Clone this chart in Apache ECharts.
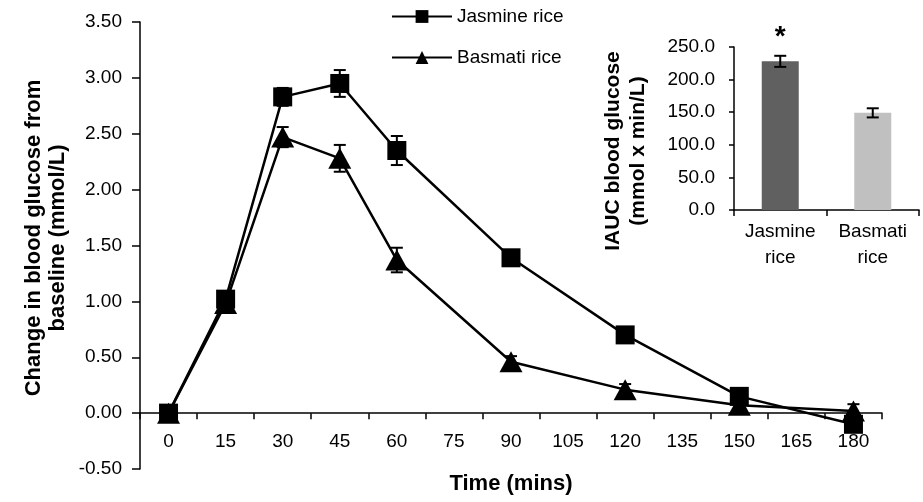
<!DOCTYPE html>
<html>
<head>
<meta charset="utf-8">
<script src="https://cdn.jsdelivr.net/npm/echarts@6/dist/echarts.min.js"></script>
<style>
html,body{margin:0;padding:0;background:#fff;}
#chart{width:923px;height:502px;}
</style>
</head>
<body>
<div id="chart"></div>
<script>
// ---- data ----
var timeLabels = ['0','15','30','45','60','75','90','105','120','135','150','165','180'];
var jasmineMean = [0, 1.02, 2.83, 2.95, 2.35, null, 1.39, null, 0.70, null, 0.15, null, -0.10];
var jasmineErr  = [0, 0.07, 0.08, 0.12, 0.13, null, 0.06, null, 0.05, null, 0.05, null, 0.05];
var basmatiMean = [0, 0.98, 2.47, 2.28, 1.37, null, 0.46, null, 0.21, null, 0.07, null, 0.02];
var basmatiErr  = [0, 0.05, 0.09, 0.12, 0.11, null, 0.05, null, 0.05, null, 0.04, null, 0.06];
var yMin = -0.5, yMax = 3.5, yStep = 0.5;

var riceNames = ['Jasmine\nrice', 'Basmati\nrice'];
var iaucMean = [228, 149];
var iaucErr = [8.5, 7];
var iaucColors = ['#606060', '#c0c0c0'];
var iaucMin = 0, iaucMax = 250, iaucStep = 50;

// ---- helpers ----
var FONT = "'Liberation Sans', Arial, sans-serif";
function errData(mean, err) {
  var out = [];
  for (var i = 0; i < mean.length; i++) {
    if (mean[i] !== null && err[i] !== null) out.push([i, mean[i], err[i]]);
  }
  return out;
}
function errRender(capHalf) {
  return function (params, api) {
    var x = api.value(0), v = api.value(1), e = api.value(2);
    var top = api.coord([x, v + e]);
    var bot = api.coord([x, v - e]);
    var st = { stroke: '#000', lineWidth: 2 };
    return {
      type: 'group',
      children: [
        { type: 'line', shape: { x1: top[0], y1: top[1], x2: bot[0], y2: bot[1] }, style: st },
        { type: 'line', shape: { x1: top[0] - capHalf, y1: top[1], x2: top[0] + capHalf, y2: top[1] }, style: st },
        { type: 'line', shape: { x1: bot[0] - capHalf, y1: bot[1], x2: bot[0] + capHalf, y2: bot[1] }, style: st }
      ]
    };
  };
}

var mainTop = 22, mainBottom = 33, H = 502;
var mainHeight = H - mainTop - mainBottom;
// move the category axis up onto the zero line
var zeroOffset = -((0 - yMin) / (yMax - yMin)) * mainHeight;

var chart = echarts.init(document.getElementById('chart'));
var axisLine = { lineStyle: { color: '#000', width: 1.5 } };
var option = {
  animation: false,
  textStyle: { fontFamily: FONT, color: '#000' },
  legend: {
    orient: 'vertical', left: 386, top: 2, itemWidth: 60, itemHeight: 16, itemGap: 22,
    textStyle: { fontSize: 19, color: '#000', fontFamily: FONT },
    data: ['Jasmine rice', 'Basmati rice']
  },
  grid: [
    { left: 140, right: 41, top: mainTop, bottom: mainBottom, outerBoundsMode: 'none' },
    { left: 734, width: 185, top: 47, height: 163, outerBoundsMode: 'none' }
  ],
  xAxis: [
    {
      type: 'category', gridIndex: 0, data: timeLabels, boundaryGap: true,
      position: 'bottom', offset: zeroOffset,
      axisLine: { onZero: false, lineStyle: { color: '#000', width: 1.5 } },
      axisTick: { show: true, length: 6, lineStyle: { color: '#000', width: 1.5 } },
      axisLabel: { fontSize: 19, color: '#000', margin: 19, fontFamily: FONT, interval: 0 }
    },
    {
      type: 'category', gridIndex: 1, data: riceNames, boundaryGap: true,
      axisLine: axisLine, axisTick: { show: true, length: 6, lineStyle: { color: '#000', width: 1.5 } },
      axisLabel: { fontSize: 19, color: '#000', margin: 9, lineHeight: 26, fontFamily: FONT, interval: 0 }
    }
  ],
  yAxis: [
    {
      type: 'value', gridIndex: 0, min: yMin, max: yMax, interval: yStep,
      splitLine: { show: false },
      axisLine: { show: true, lineStyle: { color: '#000', width: 1.5 } },
      axisTick: { show: true, length: 8, lineStyle: { color: '#000', width: 1.5 } },
      axisLabel: { fontSize: 19, color: '#000', margin: 18, fontFamily: FONT,
        formatter: function (v) { return v.toFixed(2); } }
    },
    {
      type: 'value', gridIndex: 1, min: iaucMin, max: iaucMax, interval: iaucStep,
      splitLine: { show: false },
      axisLine: { show: true, lineStyle: { color: '#000', width: 1.5 } },
      axisTick: { show: true, length: 5, lineStyle: { color: '#000', width: 1.5 } },
      axisLabel: { fontSize: 19, color: '#000', margin: 19, fontFamily: FONT,
        formatter: function (v) { return v.toFixed(1); } }
    }
  ],
  series: [
    {
      name: 'Jasmine rice', type: 'line', xAxisIndex: 0, yAxisIndex: 0,
      data: jasmineMean, connectNulls: true,
      symbol: 'rect', symbolSize: 19,
      lineStyle: { color: '#000', width: 2.5 }, itemStyle: { color: '#000' },
      z: 3
    },
    {
      name: 'Basmati rice', type: 'line', xAxisIndex: 0, yAxisIndex: 0,
      data: basmatiMean, connectNulls: true,
      symbol: 'triangle', symbolSize: [23, 21],
      lineStyle: { color: '#000', width: 2.5 }, itemStyle: { color: '#000' },
      z: 3
    },
    {
      type: 'custom', xAxisIndex: 0, yAxisIndex: 0, renderItem: errRender(6),
      data: errData(jasmineMean, jasmineErr), z: 5, silent: true
    },
    {
      type: 'custom', xAxisIndex: 0, yAxisIndex: 0, renderItem: errRender(6),
      data: errData(basmatiMean, basmatiErr), z: 5, silent: true
    },
    {
      type: 'bar', xAxisIndex: 1, yAxisIndex: 1, barWidth: 37,
      data: iaucMean.map(function (v, i) {
        var d = { value: v, itemStyle: { color: iaucColors[i] } };
        if (i === 0) d.label = { show: true, position: 'top', distance: 10, formatter: '*',
          fontSize: 28, fontWeight: 'bold', color: '#000', fontFamily: FONT };
        return d;
      })
    },
    {
      type: 'custom', xAxisIndex: 1, yAxisIndex: 1, renderItem: errRender(6),
      data: errData(iaucMean, iaucErr), z: 5, silent: true
    }
  ],
  graphic: [
    {
      type: 'text', x: 46, y: 238, rotation: Math.PI / 2,
      style: { text: 'Change in blood glucose from\nbaseline (mmol/L)', font: 'bold 22px ' + FONT,
        fill: '#000', align: 'center', verticalAlign: 'middle', lineHeight: 24 }
    },
    {
      type: 'text', x: 511, y: 484,
      style: { text: 'Time (mins)', font: 'bold 22px ' + FONT, fill: '#000',
        align: 'center', verticalAlign: 'middle' }
    },
    {
      type: 'text', x: 626, y: 151, rotation: Math.PI / 2,
      style: { text: 'IAUC blood glucose\n(mmol x min/L)', font: 'bold 21px ' + FONT,
        fill: '#000', align: 'center', verticalAlign: 'middle', lineHeight: 25 }
    }
  ]
};
chart.setOption(option);
</script>
</body>
</html>
